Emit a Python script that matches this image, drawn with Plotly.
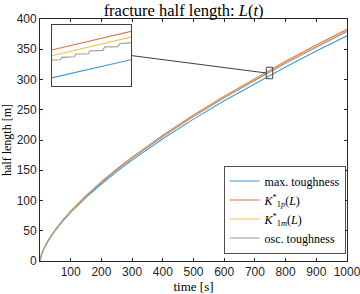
import plotly.graph_objects as go

# ---- data ----
t = [0, 2, 5, 10, 20, 35, 50, 75, 100, 150, 200, 250, 300, 400, 500, 600,
     700, 737, 758, 800, 900, 1000]
L_max = [0, 5.91, 10.89, 17.28, 27.43, 39.83, 50.52, 66.19, 80.20, 105.09, 127.32,
         147.75, 166.81, 202.11, 234.53, 264.84, 293.50, 303.74, 309.48, 320.83,
         347.03, 372.28]
L_k1p = [0, 6.08, 11.20, 17.78, 28.22, 40.98, 51.98, 68.10, 82.51, 108.12, 130.99,
         152.01, 171.62, 207.93, 241.29, 272.47, 301.96, 312.49, 318.39, 330.07,
         357.03, 383.00]
L_k1m = [0, 6.05, 11.14, 17.68, 28.06, 40.75, 51.68, 67.71, 82.04, 107.50, 130.24,
         151.14, 170.64, 206.74, 239.91, 270.92, 300.24, 310.71, 316.58, 328.19,
         355.00, 380.82]
t_osc = [0, 2, 5, 10, 20, 35, 50, 75, 100, 150, 200, 250, 300, 400, 500, 600, 700,
         737.0, 739.3, 739.7, 743.0, 743.4, 746.7, 747.1, 750.5, 751.0, 754.5, 755.0,
         758.0, 800, 900, 1000]
L_osc = [0, 6.02, 11.09, 17.60, 27.94, 40.57, 51.46, 67.42, 81.68, 107.04, 129.68,
         150.49, 169.90, 205.85, 238.88, 269.75, 298.94,
         309.34, 309.44, 310.18, 310.39, 311.23, 311.33, 312.17, 312.38, 313.43,
         313.54, 314.48, 314.80, 326.77, 353.46, 379.17]

names = ["max. toughness",
         "<i>K</i><sup>*</sup><sub>1<i>p</i></sub>(<i>L</i>)",
         "<i>K</i><sup>*</sup><sub>1<i>m</i></sub>(<i>L</i>)",
         "osc. toughness"]
colors = ["#3d9ad8", "#e2734a", "#f0c24e", "#9a9a9a"]

x_ticks = [100, 200, 300, 400, 500, 600, 700, 800, 900, 1000]
y_ticks = [0, 50, 100, 150, 200, 250, 300, 350, 400]
zoom_x = [737, 758]
zoom_y = [301.25, 320.25]

series = [(t, L_max), (t, L_k1p), (t, L_k1m), (t_osc, L_osc)]

fig = go.Figure()
for (xs, ys), n, c in zip(series, names, colors):
    fig.add_trace(go.Scatter(x=xs, y=ys, mode="lines", name=n,
                             line=dict(color=c, width=1.1)))
for (xs, ys), n, c in zip(series, names, colors):
    fig.add_trace(go.Scatter(x=xs, y=ys, mode="lines", name=n, showlegend=False,
                             line=dict(color=c, width=1.1),
                             xaxis="x2", yaxis="y2"))

axcol = "#262626"
tickfont = dict(family="Liberation Sans, Arial", size=12, color=axcol)
serif = "Liberation Serif, DejaVu Serif, serif"

inset_dom_x = [0.038, 0.297]
inset_dom_y = [0.724, 0.974]

fig.update_layout(
    width=360, height=294,
    margin=dict(l=40, r=13, t=19, b=33, autoexpand=False),
    paper_bgcolor="white", plot_bgcolor="white",
    title=dict(text="fracture half length: <i>L</i>(<i>t</i>)",
               font=dict(family=serif, size=16.5, color="black"),
               x=0.51, xref="container", xanchor="center",
               y=1 - 10 / 294, yanchor="middle"),
    xaxis=dict(range=[0, 1000], tickvals=x_ticks, ticks="inside", ticklen=3,
               tickcolor=axcol, showline=True, linecolor=axcol, linewidth=0.8,
               mirror="ticks", showgrid=False, zeroline=False, tickfont=tickfont,
               automargin=False, ticklabeloverflow="allow",
               title=dict(text="time [s]", font=dict(family=serif, size=13, color="black"),
                          standoff=0)),
    yaxis=dict(range=[0, 400], tickvals=y_ticks, ticks="inside", ticklen=3,
               tickcolor=axcol, showline=True, linecolor=axcol, linewidth=0.8,
               mirror="ticks", showgrid=False, zeroline=False, tickfont=tickfont,
               automargin=False, ticklabeloverflow="allow",
               title=dict(text="half length [m]", font=dict(family=serif, size=12, color="black"),
                          standoff=2)),
    xaxis2=dict(domain=inset_dom_x, range=zoom_x, anchor="y2", showticklabels=False,
                ticks="", showline=True, linecolor="#404040", linewidth=1, mirror=True,
                showgrid=False, zeroline=False),
    yaxis2=dict(domain=inset_dom_y, range=zoom_y, anchor="x2", showticklabels=False,
                ticks="", showline=True, linecolor="#404040", linewidth=1, mirror=True,
                showgrid=False, zeroline=False),
    legend=dict(x=0.996, y=0.03, xanchor="right", yanchor="bottom",
                bgcolor="white", bordercolor=axcol, borderwidth=0.8,
                font=dict(family=serif, size=12, color="black"),
                tracegroupgap=0, itemwidth=30),
    showlegend=True,
)

# zoom box on main axes
fig.add_shape(type="rect", xref="x", yref="y", x0=zoom_x[0], x1=zoom_x[1],
              y0=zoom_y[0], y1=zoom_y[1], line=dict(color="#404040", width=1))
# connecting line: inset right-middle -> zoom box left-middle
fig.add_shape(type="line", xref="paper", yref="paper",
              x0=inset_dom_x[1], y0=(inset_dom_y[0] + inset_dom_y[1]) / 2,
              x1=zoom_x[0] / 1000, y1=(zoom_y[0] + zoom_y[1]) / 2 / 400,
              line=dict(color="#404040", width=1))

fig.write_html("out.html", config={"displayModeBar": False},
               post_script="document.body.style.margin='0';")
